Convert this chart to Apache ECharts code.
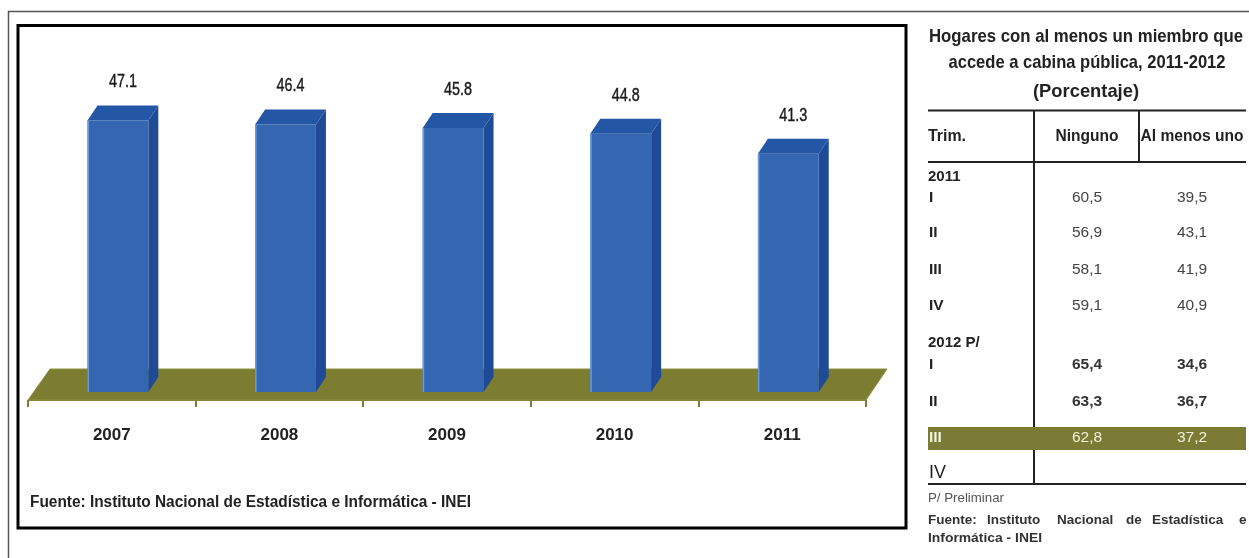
<!DOCTYPE html>
<html>
<head>
<meta charset="utf-8">
<script src="https://cdn.jsdelivr.net/npm/echarts@6/dist/echarts.min.js"></script>
<style>
html,body{margin:0;padding:0;background:#fff;}
#c{width:1249px;height:558px;}
</style>
</head>
<body>
<div id="c"></div>
<script>
// ---- chart data ----
const categories = ['2007', '2008', '2009', '2010', '2011'];
const values = [47.1, 46.4, 45.8, 44.8, 41.3];

// ---- table data ----
const tableTitle = ['Hogares con al menos un miembro que', 'accede a cabina pública, 2011-2012', '(Porcentaje)'];
const tableHeaders = ['Trim.', 'Ninguno', 'Al menos uno'];
const year2011 = '2011';
const quarters2011 = ['I', 'II', 'III', 'IV'];
const ninguno2011 = [60.5, 56.9, 58.1, 59.1];
const alMenos2011 = [39.5, 43.1, 41.9, 40.9];
const year2012 = '2012 P/';
const quarters2012 = ['I', 'II', 'III', 'IV'];
const ninguno2012 = [65.4, 63.3, 62.8, null];
const alMenos2012 = [34.6, 36.7, 37.2, null];
const highlight2012 = 2;
const notePreliminar = 'P/ Preliminar';
const fuenteTable = ['Fuente:', 'Instituto', 'Nacional', 'de', 'Estadística', 'e'];
const fuenteTable2 = 'Informática - INEI';
const fuenteChart = 'Fuente: Instituto Nacional de Estadística e Informática - INEI';

const FONT = "'Liberation Sans', Arial, sans-serif";
const fmt = v => v == null ? '' : v.toFixed(1).replace('.', ',');

const mctx = document.createElement('canvas').getContext('2d');
function measure(text, font) { mctx.font = font; return mctx.measureText(text).width; }

const chart = echarts.init(document.getElementById('c'), null, {renderer: 'canvas'});

// ---- graphic: borders + table ----
const g = [];
function txt(x, y, text, font, fill, align, width, z) {
  const el = {type: 'text', x: x, y: y, z: z || 10, style: {text: text, font: font, fill: fill, textAlign: align || 'left', textVerticalAlign: 'middle'}};
  if (width) el.scaleX = width / measure(text, font);
  g.push(el);
}
// outer gray frame lines
g.push({type: 'line', shape: {x1: 8, y1: 11.5, x2: 1249, y2: 11.5}, style: {stroke: '#555', lineWidth: 1.5}});
g.push({type: 'line', shape: {x1: 8.5, y1: 11, x2: 8.5, y2: 558}, style: {stroke: '#555', lineWidth: 1.5}});
// inner chart box
g.push({type: 'rect', shape: {x: 18, y: 25.5, width: 888, height: 502.5}, style: {fill: null, stroke: '#000', lineWidth: 3}});
// chart source
txt(30, 503, fuenteChart, 'bold 16px ' + FONT, '#222', 'left', 441);

// table title
txt(1086, 37, tableTitle[0], 'bold 19px ' + FONT, '#222', 'center', 314);
txt(1087, 63, tableTitle[1], 'bold 19px ' + FONT, '#222', 'center', 277);
txt(1086, 92, tableTitle[2], 'bold 19px ' + FONT, '#222', 'center', 106);
// table lines
g.push({type: 'line', shape: {x1: 928, y1: 110.5, x2: 1246, y2: 110.5}, style: {stroke: '#222', lineWidth: 2}});
g.push({type: 'line', shape: {x1: 928, y1: 162, x2: 1246, y2: 162}, style: {stroke: '#222', lineWidth: 2}});
g.push({type: 'line', shape: {x1: 928, y1: 484, x2: 1246, y2: 484}, style: {stroke: '#222', lineWidth: 2}});
g.push({type: 'line', shape: {x1: 1034, y1: 110, x2: 1034, y2: 484}, style: {stroke: '#222', lineWidth: 2}});
g.push({type: 'line', shape: {x1: 1139, y1: 110, x2: 1139, y2: 162}, style: {stroke: '#222', lineWidth: 2}});
// headers
txt(928, 137, tableHeaders[0], 'bold 16px ' + FONT, '#222', 'left', 38);
txt(1087, 137, tableHeaders[1], 'bold 16px ' + FONT, '#222', 'center', 63);
txt(1192, 137, tableHeaders[2], 'bold 16px ' + FONT, '#222', 'center', 103);

// 2011 block
txt(928, 177, year2011, 'bold 15px ' + FONT, '#222', 'left', 0);
const y2011 = [198, 233, 270, 306];
quarters2011.forEach((q, i) => {
  txt(929, y2011[i], q, 'bold 15.5px ' + FONT, '#222');
  txt(1087, y2011[i], fmt(ninguno2011[i]), '15.5px ' + FONT, '#444', 'center');
  txt(1192, y2011[i], fmt(alMenos2011[i]), '15.5px ' + FONT, '#444', 'center');
});
// 2012 block
txt(928, 343, year2012, 'bold 15px ' + FONT, '#222', 'left');
const y2012 = [365, 402, 438, 473];
quarters2012.forEach((q, i) => {
  const hl = i === highlight2012;
  if (hl) {
    g.push({type: 'rect', z: 5, shape: {x: 928, y: y2012[i] - 11, width: 318, height: 23}, style: {fill: '#7b7b35'}});
  }
  const lastRow = i === 3;
  txt(929, y2012[i], q, (lastRow ? '18px ' : 'bold 15.5px ') + FONT, hl ? '#f0f0dc' : '#222');
  txt(1087, y2012[i], fmt(ninguno2012[i]), (hl ? '' : 'bold ') + '15.5px ' + FONT, hl ? '#f0f0dc' : '#333', 'center');
  txt(1192, y2012[i], fmt(alMenos2012[i]), (hl ? '' : 'bold ') + '15.5px ' + FONT, hl ? '#f0f0dc' : '#333', 'center');
});
// notes
txt(928, 498, notePreliminar, '13px ' + FONT, '#555', 'left', 76);
const fuenteX = [928, 987, 1057, 1126, 1152, 1239];
fuenteTable.forEach((w, i) => txt(fuenteX[i], 520, w, 'bold 13.5px ' + FONT, '#333', 'left'));
txt(928, 538, fuenteTable2, 'bold 13.5px ' + FONT, '#333', 'left', 114);

// ---- series render functions ----
function renderFloor(params, api) {
  const cs = params.coordSys;
  const zeroY = api.coord([0, 0])[1];
  const gx = cs.x, gw = cs.width;
  return {
    type: 'polygon',
    shape: {points: [[gx, zeroY + 8], [gx + 22, zeroY - 23], [gx + gw + 21, zeroY - 23], [gx + gw, zeroY + 8]]},
    style: {fill: '#7c7d30', stroke: '#8f9040', lineWidth: 1}
  };
}
const valueFont = '18px ' + FONT;
function renderBar(params, api) {
  const idx = api.value(0), v = api.value(1);
  const base = api.coord([idx, 0]);
  const top = api.coord([idx, v]);
  const bw = api.size([1, 0])[0];
  const x0 = base[0] - 0.145 * bw, x1 = base[0] + 0.218 * bw;
  const dx = 10, dy = 15;
  const ty = top[1], by = base[1];
  const label = v.toFixed(1);
  return {
    type: 'group',
    children: [
      {type: 'polygon', shape: {points: [[x1, ty], [x1 + dx, ty - dy], [x1 + dx, by - dy], [x1, by]]}, style: {fill: '#1f4a96'}},
      {type: 'rect', shape: {x: x0, y: ty, width: x1 - x0, height: by - ty}, style: {fill: '#3566b2'}},
      {type: 'rect', shape: {x: x0, y: ty, width: 1.5, height: by - ty}, style: {fill: '#6d9be0'}},
      {type: 'polygon', shape: {points: [[x0, ty], [x0 + dx, ty - dy], [x1 + dx, ty - dy], [x1, ty]]}, style: {fill: '#2456a6'}},
      {type: 'text', x: (x0 + x1 + dx) / 2, y: ty - dy - 23, scaleX: 28 / measure(label, valueFont),
        style: {text: label, font: valueFont, fill: '#1a1a1a', textAlign: 'center', textVerticalAlign: 'middle', stroke: '#1a1a1a', lineWidth: 0.4}}
    ]
  };
}

chart.setOption({
  animation: false,
  backgroundColor: '#fff',
  grid: {left: 28, right: 383, top: 46, bottom: 166},
  xAxis: {
    type: 'category',
    data: categories,
    offset: 8,
    boundaryGap: true,
    axisLine: {show: true, onZero: false, lineStyle: {color: '#7c7d30', width: 1}},
    axisTick: {show: true, length: 7, lineStyle: {color: '#7c7d30', width: 2}},
    axisLabel: {margin: 27, fontFamily: FONT, fontSize: 17, fontWeight: 'bold', color: '#222'}
  },
  yAxis: {type: 'value', min: 0, max: 60, show: false, splitLine: {show: false}},
  graphic: g,
  series: [
    {type: 'custom', renderItem: renderFloor, data: [[0, 0]], clip: false, z: 1, silent: true},
    {type: 'custom', renderItem: renderBar, data: values.map((v, i) => [i, v]), clip: false, z: 2}
  ]
});
</script>
</body>
</html>
